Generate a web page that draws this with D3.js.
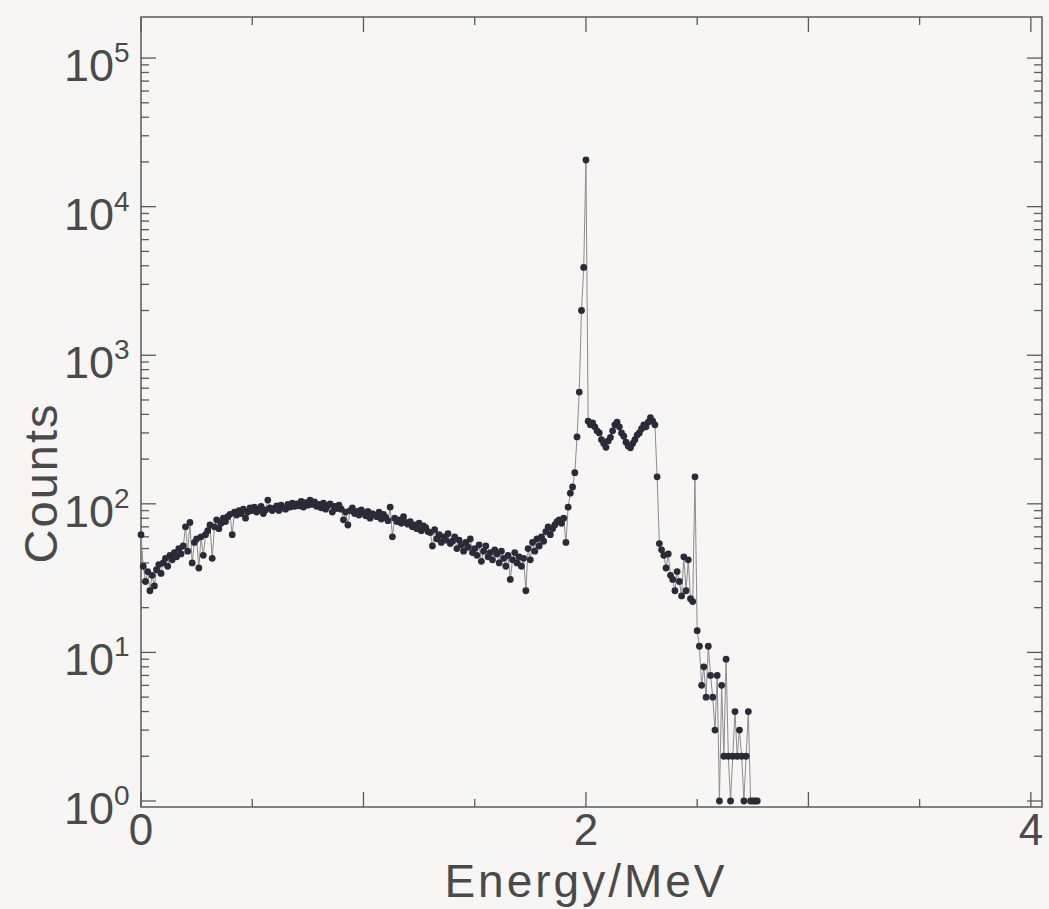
<!DOCTYPE html>
<html>
<head>
    <title>Energy spectrum</title>
    <script src="https://d3js.org/d3.v7.min.js"></script>
    <style>
        body { margin: 0; background: #f8f6f5; }
        svg { display: block; }
        .lbl { font-family: "Liberation Sans", Arial, sans-serif; fill: #4a4a4a; }
    </style>
</head>
<body>
    <div id="chart"></div>

    <script>
        // Spectrum: bins of 0.01 MeV starting at 0 MeV
        const binWidth = 0.01;
        const counts = [
            62, 38, 30, 35, 26, 33, 28, 36, 39, 34,
            40, 43, 38, 45, 42, 47, 44, 50, 46, 52,
            70, 48, 75, 40, 55, 58, 37, 60, 45, 62,
            66, 72, 43, 70, 78, 68, 74, 80, 76, 82,
            85, 62, 88, 84, 90, 86, 92, 80, 88, 94,
            90, 95, 88, 92, 96, 86, 91, 106, 94, 90,
            93, 97, 90, 98, 94, 92, 99, 95, 101, 96,
            100, 97, 104, 95, 102, 98, 106, 99, 103, 96,
            99, 94, 101, 92, 97, 100, 88, 96, 93, 98,
            92, 78, 88, 72, 90, 94, 86, 89, 84, 91,
            87, 83, 89, 80, 86, 84, 82, 88, 79, 85,
            81, 77, 95, 60, 80, 76, 78, 74, 82, 75,
            73, 76, 70, 72, 68, 74, 66, 71, 69, 65,
            64, 52, 67, 58, 62, 55, 60, 57, 63, 54,
            56, 60, 50, 57, 53, 48, 55, 51, 58, 47,
            50, 45, 53, 41, 48, 52, 44, 47, 42, 49,
            46, 40, 48, 43, 38, 45, 31, 42, 47, 40,
            44, 38, 43, 26, 50, 42, 55, 48, 58, 52,
            60, 56, 65, 70, 62, 68, 72, 76, 78, 74,
            80, 55, 95, 118, 130, 162, 282, 565, 2000, 3900,
            20600, 360, 340, 350, 330, 310, 300, 270, 255, 240,
            265, 280, 310, 340, 355, 330, 300, 285, 260, 245,
            238, 255, 270, 290, 300, 320, 340, 330, 355, 380,
            360, 340, 152, 54, 49, 45, 37, 46, 33, 31,
            26, 35, 30, 24, 44, 26, 42, 23, 22, 152,
            14, 11, 6, 8, 5, 11, 7, 5, 3, 7,
            1, 6, 2, 9, 2, 1, 2, 4, 2, 3,
            2, 1, 2, 4, 1, 1, 1, 1
        ];

        const xMajor = [0, 1, 2, 3, 4];
        const xMinor = [0.5, 1.5, 2.5, 3.5];
        const xLabels = [0, 2, 4];
        const yExponents = [0, 1, 2, 3, 4, 5];

        const width = 1049, height = 909;
        const plotLeft = 141, plotRight = 1042, plotTop = 17, plotBottom = 807;

        const svg = d3.select("#chart").append("svg")
            .attr("width", width)
            .attr("height", height);

        const x = d3.scaleLinear().domain([0, 4.05]).range([plotLeft, plotRight]);
        const y = d3.scaleLog().domain([0.911, 1.89e5]).range([plotBottom, plotTop]);

        const data = counts.map((c, i) => ({ e: i * binWidth, c: c }));

        // minor y ticks at 2..9 per decade
        const yMinor = [];
        yExponents.forEach(p => {
            for (let k = 2; k <= 9; k++) {
                const v = k * Math.pow(10, p);
                if (v < 1.89e5) yMinor.push(v);
            }
        });

        const axisColor = "#5a5a5a";
        const g = svg.append("g").attr("stroke", axisColor).attr("stroke-width", 1.3);

        // left and right y ticks (inward)
        yExponents.forEach(p => {
            const yy = y(Math.pow(10, p));
            g.append("line").attr("x1", plotLeft).attr("x2", plotLeft + 15).attr("y1", yy).attr("y2", yy);
            g.append("line").attr("x1", plotRight).attr("x2", plotRight - 15).attr("y1", yy).attr("y2", yy);
        });
        yMinor.forEach(v => {
            const yy = y(v);
            g.append("line").attr("x1", plotLeft).attr("x2", plotLeft + 8).attr("y1", yy).attr("y2", yy);
            g.append("line").attr("x1", plotRight).attr("x2", plotRight - 8).attr("y1", yy).attr("y2", yy);
        });
        // bottom and top x ticks
        xMajor.forEach(v => {
            const xx = x(v);
            g.append("line").attr("x1", xx).attr("x2", xx).attr("y1", plotBottom).attr("y2", plotBottom - 15);
            g.append("line").attr("x1", xx).attr("x2", xx).attr("y1", plotTop).attr("y2", plotTop + 15);
        });
        xMinor.forEach(v => {
            const xx = x(v);
            g.append("line").attr("x1", xx).attr("x2", xx).attr("y1", plotBottom).attr("y2", plotBottom - 8);
            g.append("line").attr("x1", xx).attr("x2", xx).attr("y1", plotTop).attr("y2", plotTop + 8);
        });

        // frame
        svg.append("rect")
            .attr("x", plotLeft).attr("y", plotTop)
            .attr("width", plotRight - plotLeft).attr("height", plotBottom - plotTop)
            .attr("fill", "none").attr("stroke", axisColor).attr("stroke-width", 1.5);

        // connecting line
        const line = d3.line().x(d => x(d.e)).y(d => y(d.c));
        svg.append("path")
            .datum(data)
            .attr("d", line)
            .attr("fill", "none")
            .attr("stroke", "#8c8c8c")
            .attr("stroke-width", 1);

        // points
        svg.append("g").selectAll("circle")
            .data(data)
            .join("circle")
            .attr("cx", d => x(d.e))
            .attr("cy", d => y(d.c))
            .attr("r", 3.4)
            .attr("fill", "#2b2a38");

        // y tick labels 10^n
        yExponents.forEach(p => {
            const t = svg.append("text")
                .attr("class", "lbl")
                .attr("x", 64)
                .attr("y", y(Math.pow(10, p)) + 23)
                .attr("font-size", 45);
            t.append("tspan").text("10");
            t.append("tspan").attr("font-size", 28).attr("dy", -19).text(p);
        });

        // x tick labels
        xLabels.forEach(v => {
            svg.append("text")
                .attr("class", "lbl")
                .attr("x", x(v))
                .attr("y", 845)
                .attr("text-anchor", "middle")
                .attr("font-size", 44)
                .text(v);
        });

        // axis titles
        svg.append("text")
            .attr("class", "lbl")
            .attr("x", 586)
            .attr("y", 897)
            .attr("text-anchor", "middle")
            .attr("font-size", 46)
            .attr("letter-spacing", 3)
            .text("Energy/MeV");

        svg.append("text")
            .attr("class", "lbl")
            .attr("transform", "translate(57,483) rotate(-90)")
            .attr("text-anchor", "middle")
            .attr("font-size", 47)
            .attr("letter-spacing", 2)
            .text("Counts");
    </script>
</body>
</html>
